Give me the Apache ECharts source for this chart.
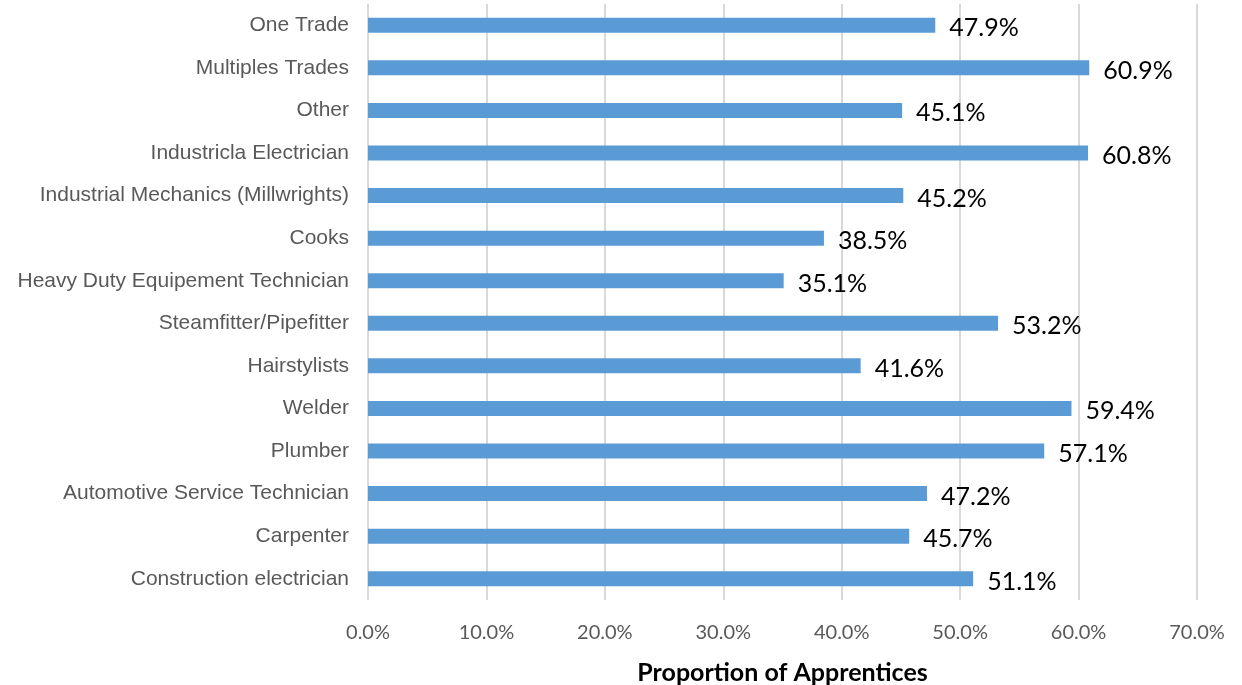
<!DOCTYPE html>
<html>
<head>
<meta charset="utf-8">
<script src="https://cdn.jsdelivr.net/npm/echarts@6/dist/echarts.min.js"></script>
<style>
html, body { margin: 0; padding: 0; background: #fff; }
#main { width: 1242px; height: 685px; }
</style>
</head>
<body>
<div id="main"></div>
<script>
// categories from bottom to top (ECharts draws category axis from bottom)
const trades = [
  'Construction electrician',
  'Carpenter',
  'Automotive Service Technician',
  'Plumber',
  'Welder',
  'Hairstylists',
  'Steamfitter/Pipefitter',
  'Heavy Duty Equipement Technician',
  'Cooks',
  'Industrial Mechanics (Millwrights)',
  'Industricla Electrician',
  'Other',
  'Multiples Trades',
  'One Trade'
];
const proportions = [51.1, 45.7, 47.2, 57.1, 59.4, 41.6, 53.2, 35.1, 38.5, 45.2, 60.8, 45.1, 60.9, 47.9];
const xTicks = [0, 10, 20, 30, 40, 50, 60, 70];

let myChart = echarts.init(document.getElementById('main'));
let option = {
  animation: false,
  grid: {
    left: 368,
    right: 45,
    top: 4,
    bottom: 85,
    containLabel: false,
    outerBoundsMode: 'none'
  },
  xAxis: {
    type: 'value',
    min: xTicks[0],
    max: xTicks[xTicks.length - 1],
    interval: 10,
    name: 'Proportion of Apprentices',
    nameLocation: 'middle',
    nameGap: 60,
    nameTextStyle: {
      fontFamily: 'Lato',
      fontWeight: 'bold',
      fontSize: 25,
      color: '#000'
    },
    axisLine: { show: false },
    axisTick: { show: false },
    axisLabel: {
      fontFamily: 'Lato',
      fontSize: 20,
      color: '#595959',
      margin: 23,
      formatter: v => v.toFixed(1) + '%'
    },
    splitLine: {
      show: true,
      lineStyle: { color: '#d9d9d9', width: 2 }
    }
  },
  yAxis: {
    type: 'category',
    data: trades,
    axisLine: { show: false },
    axisTick: { show: false },
    axisLabel: {
      fontFamily: 'Liberation Sans',
      fontSize: 21,
      color: '#595959',
      margin: 19,
      padding: [4, 0, 0, 0]
    }
  },
  series: [
    {
      type: 'bar',
      data: proportions,
      barWidth: 15,
      itemStyle: { color: '#5b9bd5' },
      label: {
        show: true,
        position: 'right',
        distance: 14,
        offset: [0, 3],
        fontFamily: 'Lato',
        fontSize: 25,
        color: '#000',
        formatter: p => p.value.toFixed(1) + '%'
      }
    }
  ]
};
myChart.setOption(option);
</script>
</body>
</html>
